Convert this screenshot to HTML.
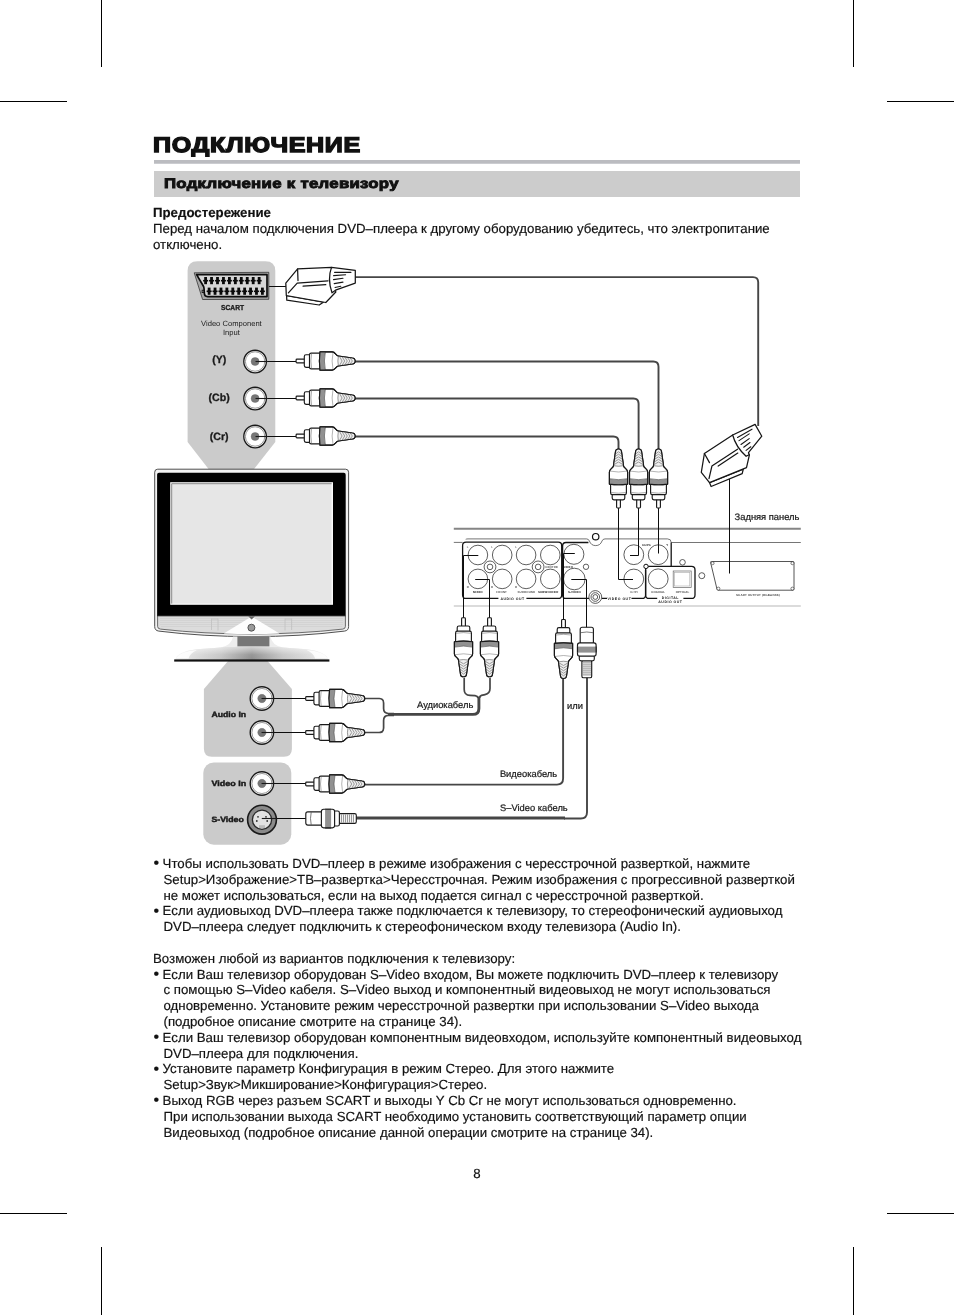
<!DOCTYPE html>
<html lang="ru">
<head>
<meta charset="utf-8">
<title>ПОДКЛЮЧЕНИЕ</title>
<style>
html,body{margin:0;padding:0;background:#fff;}
body{width:954px;height:1315px;position:relative;overflow:hidden;
  font-family:"Liberation Sans",sans-serif;color:#111;text-rendering:geometricPrecision;}
.abs{position:absolute;white-space:nowrap;will-change:transform;}
.crop{position:absolute;background:#000;}
#title{left:152.6px;top:133.2px;font-weight:bold;font-size:21.3px;line-height:24px;
  transform-origin:0 0;transform:scaleX(1.178);-webkit-text-stroke:1.35px #111;letter-spacing:0.55px;}
#rule{position:absolute;left:154px;top:160px;width:646px;height:3px;background:#bbbcc0;border-bottom:1px solid #cbccd0;}
#bar{position:absolute;left:154px;top:171px;width:646px;height:26px;background:#cccccc;}
#sect{left:163.7px;top:174.7px;font-weight:bold;font-size:13.8px;line-height:18px;
  transform-origin:0 0;transform:scaleX(1.215);-webkit-text-stroke:0.9px #111;letter-spacing:0.25px;}
.body{font-size:13.26px;line-height:15.8px;-webkit-text-stroke:0.18px #111;}
.bl{display:inline-block;width:9.6px;text-indent:0;font-size:16px;line-height:10px;vertical-align:-0.4px;margin-left:0.5px;margin-right:-0.5px}
#warn{left:153px;top:205px;}
#notes{left:153px;top:856px;}
#notes div{padding-left:10.5px;text-indent:-10.5px;}
#notes div.p{padding-left:0;text-indent:0;}
#pageno{left:467px;top:1166px;width:20px;text-align:center;font-size:13.26px;line-height:15.8px;-webkit-text-stroke:0.18px #111;}
svg text{font-family:"Liberation Sans",sans-serif;}
</style>
</head>
<body>
<!-- crop marks -->
<div class="crop" style="left:101px;top:0;width:1px;height:67px"></div>
<div class="crop" style="left:853px;top:0;width:1px;height:67px"></div>
<div class="crop" style="left:0;top:101px;width:67px;height:1px"></div>
<div class="crop" style="left:887px;top:101px;width:67px;height:1px"></div>
<div class="crop" style="left:0;top:1213px;width:67px;height:1px"></div>
<div class="crop" style="left:887px;top:1213px;width:67px;height:1px"></div>
<div class="crop" style="left:101px;top:1247px;width:1px;height:68px"></div>
<div class="crop" style="left:853px;top:1247px;width:1px;height:68px"></div>

<div id="title" class="abs">ПОДКЛЮЧЕНИЕ</div>
<div id="rule"></div>
<div id="bar"></div>
<div id="sect" class="abs">Подключение к телевизору</div>

<div id="warn" class="abs body"><b>Предостережение</b><br>Перед началом подключения DVD–плеера к другому оборудованию убедитесь, что электропитание<br>отключено.</div>

<svg class="abs" style="left:0;top:0" width="954" height="1315" viewBox="0 0 954 1315">
<defs>
<pattern id="knurl" width="1.6" height="1.6" patternUnits="userSpaceOnUse">
<rect width="1.6" height="1.6" fill="#b4b4b4"/><path d="M0,0L1.6,1.6M1.6,0L0,1.6" stroke="#5a5a5a" stroke-width="0.32"/>
</pattern>
<linearGradient id="baseg" x1="0" x2="1" y1="0" y2="0">
<stop offset="0" stop-color="#f4f4f4"/><stop offset="0.12" stop-color="#dcdcdc"/><stop offset="0.3" stop-color="#c4c4c4"/><stop offset="0.5" stop-color="#8e8e8e"/><stop offset="0.7" stop-color="#c4c4c4"/><stop offset="0.88" stop-color="#dcdcdc"/><stop offset="1" stop-color="#f4f4f4"/>
</linearGradient>
<linearGradient id="basev" x1="0" x2="0" y1="0" y2="1">
<stop offset="0" stop-color="#fff" stop-opacity="0.62"/><stop offset="0.6" stop-color="#fff" stop-opacity="0.08"/><stop offset="1" stop-color="#fff" stop-opacity="0"/>
</linearGradient>
<g id="rca" stroke="#1a1a1a" stroke-width="1.15" fill="#fff" stroke-linejoin="round">
 <rect x="0" y="-1.9" width="9.5" height="3.8" rx="0.9"/>
 <g transform="translate(-0.7,0)">
 <rect x="8.9" y="-6.3" width="6.6" height="12.6" rx="1.7"/>
 <rect x="14.1" y="-7.9" width="11.6" height="15.8" rx="1.7"/>
 <path d="M24.6,-9.1H36.8C40,-9.1 40.4,-5.3 43,-5L57,-3Q59.7,-2.7 59.7,0Q59.7,2.7 57,3L43,5C40.4,5.3 40,9.1 36.8,9.1H24.6Q23.4,0 24.6,-9.1Z"/>
 <path d="M43,-5L57,-3Q59.7,-2.7 59.7,0Q59.7,2.7 57,3L43,5Q42,0 43,-5Z" fill="#efefef" stroke="none"/>
 <path d="M24.6,-9.1H30Q28,0 30,9.1H24.6Q23.4,0 24.6,-9.1Z" fill="url(#knurl)" stroke="none"/>
 <path d="M30,-9.1Q28,0 30,9.1" fill="none" stroke="#444" stroke-width="0.6"/>
 <path d="M16.2,-7.4Q14.8,0 16.2,7.4" fill="none" stroke="#666" stroke-width="0.55"/>
 <path d="M37.6,-8.4Q35.8,0 37.6,8.4" fill="none" stroke="#777" stroke-width="0.55"/>
 <path d="M44.2,-4.3L46.7,0L44.2,4.3M46.9,-3.9L49.3,0L46.9,3.9M49.6,-3.6L51.9,0L49.6,3.6M52.2,-3.3L54.5,0L52.2,3.3M54.8,-2.9L57,0L54.8,2.9" fill="none" stroke="#9a9a9a" stroke-width="1"/>
 <path d="M43,-5Q41.9,0 43,5" fill="none" stroke="#555" stroke-width="0.6"/>
 <path d="M24.6,-9.1H36.8C40,-9.1 40.4,-5.3 43,-5L57,-3Q59.7,-2.7 59.7,0Q59.7,2.7 57,3L43,5C40.4,5.3 40,9.1 36.8,9.1H24.6Q23.4,0 24.6,-9.1Z" fill="none"/>
 </g>
</g>
<g id="svid" stroke="#1a1a1a" stroke-width="1.15" fill="#fff" stroke-linejoin="round">
 <rect x="33" y="-4.9" width="17.5" height="9.8" rx="1.6"/>
 <path d="M35.6,-4.2V4.2M37.6,-4.2V4.2M39.6,-4.2V4.2M41.6,-4.2V4.2M43.6,-4.2V4.2M45.6,-4.2V4.2M47.6,-4.2V4.2" stroke="#8c8c8c" stroke-width="1" fill="none"/>
 <rect x="27.6" y="-7.5" width="6" height="15" rx="1.8"/>
 <rect x="0" y="-6.6" width="17" height="13.2" rx="2"/>
 <path d="M5.4,-6.2Q4,0 5.4,6.2" fill="none" stroke="#444" stroke-width="0.7"/>
 <rect x="15.6" y="-9.3" width="13.2" height="18.6" rx="2.2"/>
 <rect x="19.3" y="-9.3" width="6" height="18.6" fill="url(#knurl)" stroke="none"/>
 <path d="M19.3,-9.3H25.3M19.3,9.3H25.3" fill="none"/>
</g>
<g id="jack" stroke="#1a1a1a" fill="#fff">
 <circle r="11.3" stroke-width="1.35"/>
 <circle r="9.7" stroke-width="0.6" stroke="#555"/>
 <circle r="4" fill="#777" stroke="#666" stroke-width="0.4"/>
</g>
</defs>
<path d="M187.6,271Q187.6,261.3 197.6,261.3H265.3Q275.3,261.3 275.3,271V442L253.7,469.6H208.9L187.6,442Z" fill="#cbcbcb"/>
<path d="M228.5,660.5H267.1L291.9,689.1V748.7Q291.9,756.7 283.9,756.7H211.9Q203.9,756.7 203.9,748.7V689.1Z" fill="#cbcbcb"/>
<rect x="203.3" y="762.5" width="88" height="82.2" rx="10.5" fill="#cbcbcb"/>
<g fill="none" stroke="#464646" stroke-width="1.9" stroke-linecap="butt">
<path d="M355,277.1H753Q758.2,277.1 758.2,282.3V426"/>
<path d="M355,361.5H653.3Q658.5,361.5 658.5,366.7V449"/>
<path d="M355,398.5H633.4Q638.6,398.5 638.6,403.7V449"/>
<path d="M355,436.5H613.3Q618.5,436.5 618.5,441.7V449"/>
<path d="M364,784.6H557Q563.1,784.6 563.1,778.6V678"/>
</g>
<path d="M356,818.05H565" fill="none" stroke="#464646" stroke-width="2.9"/>
<path d="M564,818.5H580.8Q587,818.5 587,812.3V677" fill="none" stroke="#464646" stroke-width="1.9"/>
<g fill="none" stroke="#464646" stroke-width="1.7">
<path d="M364,698.5H379.2Q383.6,698.5 383.6,702.9V708.6Q383.6,713.3 388.4,713.5H394"/>
<path d="M364,732.5H379.2Q383.6,732.5 383.6,728.1V720.4Q383.6,715.5 388.4,715.3H394"/>
<path d="M464.2,678V689.5Q464.2,695.2 470,695.4L475,695.6Q477.6,696 478,698"/>
<path d="M490,678V688.5Q490,693.6 485,694.6L481.5,695.4Q479.6,696 479.6,698"/>
</g>
<path d="M388,714.4H472.9Q478.9,714.4 478.9,708.4V696.5" fill="none" stroke="#464646" stroke-width="2.9"/>
<g id="dvd">
<path d="M453.8,528.8H800.8" stroke="#858585" stroke-width="1.9" fill="none"/>
<path d="M453.8,606H800.8" stroke="#cfcfcf" stroke-width="1.6" fill="none"/>
<g fill="none" stroke="#3a3a3a" stroke-width="0.7">
<path d="M453.8,542.4H462.6"/>
<path d="M465.7,539.3Q466.5,538.9 468,538.9H586.5Q588.6,538.9 589.4,541Q591,545.6 595.7,545.6Q600.4,545.6 602,541Q602.8,538.9 605,538.9H667.5Q671.2,538.9 671.2,542.5H800.8"/>
</g>
<g fill="none" stroke="#141414" stroke-width="1.3" stroke-linejoin="round">
<path d="M498.4,598.4H466.1Q462.6,598.4 462.6,594.9V545.6Q462.6,542.1 466.1,542.1H558.2Q561.7,542.1 561.7,545.6V594.9Q561.7,598.4 558.2,598.4H526.4"/>
<path d="M588.4,542.5H566Q562.6,542.5 562.6,546V594.9Q562.6,598.4 566,598.4H589"/>
<path d="M602,598.4H607M631.5,598.4H642Q645.6,598.4 645.6,594.9V569.8"/>
<path d="M671.2,542.5V566.3"/>
<path d="M657.2,598.4H649.1Q645.6,598.4 645.6,594.9V569.9Q645.6,566.4 649.1,566.4H691.5Q695,566.4 695,569.9V594.9Q695,598.4 691.5,598.4H683.4"/>
</g>
<g fill="#fff" stroke="#2a2a2a" stroke-width="0.75">
<circle cx="477.9" cy="555" r="9.8"/>
<circle cx="477.9" cy="578.9" r="9.8"/>
<circle cx="502.2" cy="555" r="9.8"/>
<circle cx="502.2" cy="578.9" r="9.8"/>
<circle cx="526.1" cy="555" r="9.8"/>
<circle cx="526.1" cy="578.9" r="9.8"/>
<circle cx="550.3" cy="555" r="9.8"/>
<circle cx="550.3" cy="578.9" r="9.8"/>
<circle cx="573.9" cy="554.3" r="10"/><circle cx="574.3" cy="579" r="10.8"/>
<circle cx="633.8" cy="554.7" r="9.9"/><circle cx="658.2" cy="554.7" r="9.9"/><circle cx="633.8" cy="579" r="9.9"/><circle cx="658.2" cy="578.8" r="9.9"/>
<circle cx="490" cy="566.9" r="5.9"/><circle cx="490" cy="566.9" r="2.8"/>
<circle cx="538.1" cy="566.9" r="5.9"/><circle cx="538.1" cy="566.9" r="2.8"/>
<circle cx="595.3" cy="597" r="6.4"/><circle cx="595.3" cy="597" r="4.3"/><circle cx="595.3" cy="597" r="2.4"/>
<circle cx="586" cy="566.8" r="2.7"/><circle cx="682.5" cy="562.3" r="2.8"/><circle cx="701.8" cy="575.7" r="3"/>
<circle cx="595.7" cy="536.7" r="3.2" stroke="#111" stroke-width="1.2"/>
<circle cx="646" cy="566.4" r="2.2" stroke="#111" stroke-width="1"/>
</g>
<rect x="673.2" y="571" width="18" height="16.4" fill="#fff" stroke="#666" stroke-width="0.7"/><rect x="674.6" y="572.4" width="15.2" height="13.6" fill="none" stroke="#aaa" stroke-width="0.6"/>
<path d="M711.4,561.5H793Q794,561.5 794,562.5V589.2Q794,590.2 793,590.2H718.2Q717.2,590.2 717,589.2L710.6,562.5Q710.4,561.5 711.4,561.5Z" fill="#fff" stroke="#2a2a2a" stroke-width="0.8"/>
<circle cx="712.6" cy="563.2" r="1.5" fill="#fff" stroke="#2a2a2a" stroke-width="0.6"/>
<circle cx="792.4" cy="563.2" r="1.5" fill="#fff" stroke="#2a2a2a" stroke-width="0.6"/>
<circle cx="792.4" cy="588.6" r="1.5" fill="#fff" stroke="#2a2a2a" stroke-width="0.6"/>
<circle cx="718.4" cy="588.6" r="1.5" fill="#fff" stroke="#2a2a2a" stroke-width="0.6"/>
<g fill="#1a1a1a" font-weight="bold" text-anchor="middle" font-size="2.9" letter-spacing="0.15">
<text x="467.8" y="548.3" fill="#777">L</text><text x="467.8" y="588.4" fill="#555">R</text>
<text x="492.2" y="548.3" fill="#777">L</text><text x="492.2" y="588.4" fill="#555">R</text>
<text x="516.1" y="548.3" fill="#777">L</text><text x="516.1" y="588.4" fill="#555">R</text>
<text x="477.9" y="592.6">MIXED</text><text x="501.7" y="592.6" fill="#555">FRONT</text><text x="526.4" y="592.6" fill="#555">SURROUND</text><text x="548.2" y="592.6">SUBWOOFER</text>
<text x="551.6" y="568.1" fill="#555">CENTRE</text>
<text x="568.2" y="568.4">VIDEO</text><text x="574.4" y="592.6">S-VIDEO</text>
<text x="646.5" y="546">Cb/Pb</text><text x="667.2" y="546">Y</text><text x="634.2" y="592.6" fill="#555">Cr/Pr</text>
<text x="658.2" y="592.6" fill="#444">COAXIAL</text><text x="682.5" y="592.6" fill="#444">OPTICAL</text>
<text x="758" y="596.2" fill="#444" textLength="44" lengthAdjust="spacingAndGlyphs">SCART OUTPUT (RGB&amp;PAB)</text>
</g>
<g fill="#141414" font-weight="bold" text-anchor="middle" font-size="3.5" letter-spacing="0.5">
<text x="512.6" y="599.6">AUDIO OUT</text><text x="619.4" y="599.6">VIDEO OUT</text>
<text x="670.4" y="598.9">DIGITAL</text><text x="670.4" y="602.6">AUDIO OUT</text>
</g>
</g>
<g fill="none" stroke="#0d0d0d" stroke-width="1">
<path d="M268.8,286.5H286.5"/>
<path d="M255.5,361.5H296"/>
<path d="M255.5,398.5H296"/>
<path d="M255.5,436.5H296"/>
<path d="M261.5,698.5H306"/>
<path d="M261.5,732.5H306"/>
<path d="M261.5,783.5H306"/>
<path d="M261.8,818.5H306"/>
<path d="M463.5,618V555.5H478.3"/>
<path d="M489.5,618V579.5H475.2"/>
<path d="M563.5,620V553.5H574.8"/>
<path d="M586.5,628V579.5H571.3"/>
<path d="M618.5,507V579.5H633"/>
<path d="M638.5,507V555.5H630"/>
<path d="M658.5,507V553.5"/>
<path d="M729.5,479V573.5"/>
</g>
<use href="#rca" transform="translate(296.1,361.0)"/>
<use href="#rca" transform="translate(296.1,398.0)"/>
<use href="#rca" transform="translate(296.1,436.0)"/>
<use href="#rca" transform="translate(305.7,698.5)"/>
<use href="#rca" transform="translate(305.7,732.5)"/>
<use href="#rca" transform="translate(305.7,784)"/>
<use href="#svid" transform="translate(305.8,818.5)"/>
<use href="#rca" transform="translate(618.5,508) rotate(-90)"/>
<use href="#rca" transform="translate(638.6,508) rotate(-90)"/>
<use href="#rca" transform="translate(658.5,508) rotate(-90)"/>
<use href="#rca" transform="translate(463.5,617.8) rotate(90)"/>
<use href="#rca" transform="translate(489.5,617.8) rotate(90)"/>
<use href="#rca" transform="translate(563.5,619.5) rotate(90)"/>
<use href="#svid" transform="translate(586.8,627.3) rotate(90)"/>
<use href="#jack" transform="translate(255.1,361.5)"/>
<path d="M255.5,361.5H268" stroke="#1a1a1a" stroke-width="1.1"/>
<use href="#jack" transform="translate(255.1,398.5)"/>
<path d="M255.5,398.5H268" stroke="#1a1a1a" stroke-width="1.1"/>
<use href="#jack" transform="translate(255.1,436.5)"/>
<path d="M255.5,436.5H268" stroke="#1a1a1a" stroke-width="1.1"/>
<use href="#jack" transform="translate(261.9,698.5) scale(1.035)"/>
<path d="M261.5,698.5H274" stroke="#1a1a1a" stroke-width="1.1"/>
<use href="#jack" transform="translate(261.9,732.5) scale(1.035)"/>
<path d="M261.5,732.5H274" stroke="#1a1a1a" stroke-width="1.1"/>
<use href="#jack" transform="translate(261.9,783.5) scale(1.035)"/>
<path d="M261.5,783.5H274" stroke="#1a1a1a" stroke-width="1.1"/>
<circle cx="262" cy="819.7" r="14.4" fill="#8a8a8a" stroke="#1a1a1a" stroke-width="1.6"/>
<circle cx="262" cy="819.7" r="9.6" fill="#e2e2e2" stroke="#2a2a2a" stroke-width="1.3"/>
<rect x="259" y="825.2" width="6" height="2.8" fill="#bbb"/>
<g fill="#333"><circle cx="258" cy="816.8" r="0.9"/><circle cx="266" cy="816.8" r="0.9"/><circle cx="256.8" cy="821" r="0.9"/><circle cx="267.2" cy="821" r="0.9"/></g>
<path d="M261.8,818.5H277" stroke="#1a1a1a" stroke-width="1.1"/>
<g fill="#1a1a1a" font-weight="bold" text-anchor="middle" stroke="#1a1a1a" stroke-width="0.3">
<text x="232.6" y="309.6" font-size="7.2" textLength="23" lengthAdjust="spacingAndGlyphs">SCART</text>
<text x="219.2" y="363.4" font-size="10.6">(Y)</text>
<text x="219.2" y="400.8" font-size="10.6">(Cb)</text>
<text x="219.2" y="439.6" font-size="10.6">(Cr)</text>
</g>
<g fill="#222" text-anchor="middle" font-size="7.6">
<text x="231.4" y="326.4">Video Component</text>
<text x="231.4" y="335.4">Input</text>
</g>
<g fill="#1a1a1a" font-weight="bold" font-size="7.7" stroke="#1a1a1a" stroke-width="0.42">
<text x="211.4" y="716.7" textLength="34.8" lengthAdjust="spacingAndGlyphs">Audio In</text>
<text x="211.4" y="785.6" textLength="34.8" lengthAdjust="spacingAndGlyphs">Video In</text>
<text x="211.4" y="821.8" textLength="32.4" lengthAdjust="spacingAndGlyphs">S-Video</text>
</g>
<g fill="#1a1a1a" font-size="9.35" stroke="#1a1a1a" stroke-width="0.22">
<text x="417" y="707.8">Аудиокабель</text>
<text x="567" y="708.6">или</text>
<text x="499.9" y="777.3">Видеокабель</text>
<text x="500" y="811.3">S–Video кабель</text>
<text x="734.6" y="519.7">Задняя панель</text>
</g>
<g id="scartsock">
<path d="M194.2,272.8L268.8,272.3V299.3L202.6,299.5Z" fill="#a9a9a9" stroke="#222" stroke-width="0.7" stroke-linejoin="round"/>
<path d="M196.6,274.6H267V296.6H207.5Q204.6,296.6 204.4,293.8L204,288.2Q203.9,287 203.3,286Z" fill="#d6d6d6" stroke="#0c0c0c" stroke-width="1.7" stroke-linejoin="round"/>
<g fill="#0a0a0a">
<rect x="204.20" y="277" width="2.8" height="7.2"/><rect x="203.10" y="279.9" width="5" height="1.6"/>
<rect x="210.15" y="277" width="2.8" height="7.2"/><rect x="209.05" y="279.9" width="5" height="1.6"/>
<rect x="216.10" y="277" width="2.8" height="7.2"/><rect x="215.00" y="279.9" width="5" height="1.6"/>
<rect x="222.05" y="277" width="2.8" height="7.2"/><rect x="220.95" y="279.9" width="5" height="1.6"/>
<rect x="228.00" y="277" width="2.8" height="7.2"/><rect x="226.90" y="279.9" width="5" height="1.6"/>
<rect x="233.95" y="277" width="2.8" height="7.2"/><rect x="232.85" y="279.9" width="5" height="1.6"/>
<rect x="239.90" y="277" width="2.8" height="7.2"/><rect x="238.80" y="279.9" width="5" height="1.6"/>
<rect x="245.85" y="277" width="2.8" height="7.2"/><rect x="244.75" y="279.9" width="5" height="1.6"/>
<rect x="251.80" y="277" width="2.8" height="7.2"/><rect x="250.70" y="279.9" width="5" height="1.6"/>
<rect x="257.75" y="277" width="2.8" height="7.2"/><rect x="256.65" y="279.9" width="5" height="1.6"/>
<rect x="202.10" y="290.2" width="2.4" height="2.4" fill="none" stroke="#0a0a0a" stroke-width="0.8"/>
<rect x="207.72" y="287.6" width="2.8" height="7.2"/><rect x="206.62" y="290.5" width="5" height="1.6"/>
<rect x="213.64" y="287.6" width="2.8" height="7.2"/><rect x="212.54" y="290.5" width="5" height="1.6"/>
<rect x="219.56" y="287.6" width="2.8" height="7.2"/><rect x="218.46" y="290.5" width="5" height="1.6"/>
<rect x="225.48" y="287.6" width="2.8" height="7.2"/><rect x="224.38" y="290.5" width="5" height="1.6"/>
<rect x="231.40" y="287.6" width="2.8" height="7.2"/><rect x="230.30" y="290.5" width="5" height="1.6"/>
<rect x="237.32" y="287.6" width="2.8" height="7.2"/><rect x="236.22" y="290.5" width="5" height="1.6"/>
<rect x="243.24" y="287.6" width="2.8" height="7.2"/><rect x="242.14" y="290.5" width="5" height="1.6"/>
<rect x="249.16" y="287.6" width="2.8" height="7.2"/><rect x="248.06" y="290.5" width="5" height="1.6"/>
<rect x="255.08" y="287.6" width="2.8" height="7.2"/><rect x="253.98" y="290.5" width="5" height="1.6"/>
<rect x="261.00" y="287.6" width="2.8" height="7.2"/><rect x="259.90" y="290.5" width="5" height="1.6"/>
</g></g>
<g id="scartplugs" fill="#fff" stroke="#161616" stroke-width="1.25" stroke-linejoin="round" stroke-linecap="round">
<!-- horizontal plug -->
<path d="M286.6,295.6L286.8,300.2L319.2,305L323.3,302.2Z"/>
<path d="M285.8,283.1L297.6,268.9L331.5,267.3L335.8,292L325.8,302.5L286.3,295.5Z"/>
<path d="M331.5,267.4L355.3,270.4V283.1L335.5,290.2L332,292.8Q327.2,279 331.5,267.4Z"/>
<path d="M297.6,269L298,280.6M297.2,283.1L328,280.9M297.2,283.1L288.4,292.8M303.1,286.2L325.8,284.7" fill="none"/>
<path d="M334.6,272.4H350.9M333.6,275.6L345.6,274.8M333.5,279.6L343,278.3M334.2,283.6L343,282.1M335,287.5L340.8,286.2" fill="none" stroke-width="1.1"/>
<!-- tilted plug -->
<path d="M709.5,482.6L711.1,486.5L742.2,473.6L743.3,469.2Z"/>
<path d="M704.4,453.5L732.7,435L749.4,454.8L746.5,467.7L709.5,482.6L701.3,472.4Z"/>
<path d="M732.7,435L755.1,424.4L761.8,436.2L748.5,452.7L749.2,454.7L746.1,456.3Q735.6,446.6 732.7,435Z"/>
<path d="M704.4,453.5L709.5,462.6M711.9,466.1L737.5,449.2M711.9,466.1L709,478.7M718.2,466.1L737.8,453.1" fill="none"/>
<path d="M737.5,437.4L752,429.2M739,440.6L749.2,433.9M741,444.5L749.2,438.6M743.7,447.2L750,442.5M746.1,450.4L750.8,446.8" fill="none" stroke-width="1.1"/>
</g>

<g id="tvset">
<!-- outer shell -->
<path d="M157.7,469.2H345.6Q348.6,469.2 348.6,472.2V626.5Q348.6,630.6 344.5,631.1Q300,636.6 251.6,636.6Q203,636.6 158.8,631.1Q154.7,630.6 154.7,626.5V472.2Q154.7,469.2 157.7,469.2Z" fill="#f2f2f2" stroke="#3c3c3c" stroke-width="0.9"/>
<!-- black bezel -->
<path d="M159,472.8H343.8Q345.7,472.8 345.7,474.7V616.4H157.1V474.7Q157.1,472.8 159,472.8Z" fill="#000"/>
<!-- screen -->
<rect x="170.2" y="482.2" width="162.8" height="122.6" fill="#fbfbfb"/>
<rect x="171.2" y="483.2" width="160.4" height="120.4" fill="#e6e6e6"/>
<path d="M171.7,603.6V483.7H331.6" fill="none" stroke="#8c8c8c" stroke-width="1"/>
<!-- speaker strip -->
<path d="M157.6,616H345.4V626.4Q345.4,628.8 342.8,629.1Q299,634 251.6,634Q204,634 160.4,629.1Q157.6,628.8 157.6,626.4Z" fill="#dcdcdc" stroke="#4a4a4a" stroke-width="0.8"/>
<path d="M160,618.5H343M160,620.5H343M160,622.5H343M160,624.5H343M161,626.5H342" stroke="#cfcfcf" stroke-width="0.7" fill="none"/>
<path d="M211.5,618.5V630M218,618.5V630.5M285,618.5V630.5M291.6,618.5V630M211.5,619H218M285,619H291.6" stroke="#c2c2c2" stroke-width="0.9" fill="none"/>
<!-- white centre triangle -->
<path d="M251.6,616.4L279.5,633.4Q251.6,634.4 223.8,633.4Z" fill="#fdfdfd"/>

<path d="M248.2,616.2H255L251.6,619.6Z" fill="#666"/>
<circle cx="251.4" cy="627.7" r="3.5" fill="#9a9a9a" stroke="#4a4a4a" stroke-width="0.9"/>
<!-- neck -->
<path d="M233,636.4H270.5Q271.5,645 283,647.5H220.5Q232,645 233,636.4Z" fill="#ededed"/>
<rect x="237.4" y="636.2" width="32" height="10.2" fill="#767676"/>
<!-- base -->
<path d="M174.8,660.2Q177,651.5 197,649.2Q225,646.6 251.8,646.6Q279,646.6 306.5,649.2Q326.5,651.5 328.8,660.2Z" fill="url(#baseg)"/>
<path d="M174.8,660.2Q177,651.5 197,649.2Q225,646.6 251.8,646.6Q279,646.6 306.5,649.2Q326.5,651.5 328.8,660.2Z" fill="url(#basev)"/>
<path d="M176,658Q180,651.5 197,650Q190,653 188.5,658.5Z" fill="#fff" opacity="0.85"/>
<path d="M327.6,658Q323.6,651.5 306.6,650Q313.6,653 315.1,658.5Z" fill="#fff" opacity="0.85"/>
<rect x="174.2" y="659.4" width="155.2" height="2.2" fill="#111"/>
</g>

</svg>

<div id="notes" class="abs body">
<div><span class="bl">•</span>Чтобы использовать DVD–плеер в режиме изображения с чересстрочной разверткой, нажмите<br>Setup&gt;Изображение&gt;ТВ–развертка&gt;Чересстрочная. Режим изображения с прогрессивной разверткой<br>не может использоваться, если на выход подается сигнал с чересстрочной разверткой.</div>
<div><span class="bl">•</span>Если аудиовыход DVD–плеера также подключается к телевизору, то стереофонический аудиовыход<br>DVD–плеера следует подключить к стереофоническом входу телевизора (Audio In).</div>
<div class="p">&nbsp;</div>
<div class="p">Возможен любой из вариантов подключения к телевизору:</div>
<div><span class="bl">•</span>Если Ваш телевизор оборудован S–Video входом, Вы можете подключить DVD–плеер к телевизору<br>с помощью S–Video кабеля. S–Video выход и компонентный видеовыход не могут использоваться<br>одновременно. Установите режим чересстрочной развертки при использовании S–Video выхода<br>(подробное описание смотрите на странице 34).</div>
<div><span class="bl">•</span>Если Ваш телевизор оборудован компонентным видеовходом, используйте компонентный видеовыход<br>DVD–плеера для подключения.</div>
<div><span class="bl">•</span>Установите параметр Конфигурация в режим Стерео. Для этого нажмите<br>Setup&gt;Звук&gt;Микширование&gt;Конфигурация&gt;Стерео.</div>
<div><span class="bl">•</span>Выход RGB через разъем SCART и выходы Y Cb Cr не могут использоваться одновременно.<br>При использовании выхода SCART необходимо установить соответствующий параметр опции<br>Видеовыход (подробное описание данной операции смотрите на странице 34).</div>
</div>

<div id="pageno" class="abs">8</div>
</body>
</html>
